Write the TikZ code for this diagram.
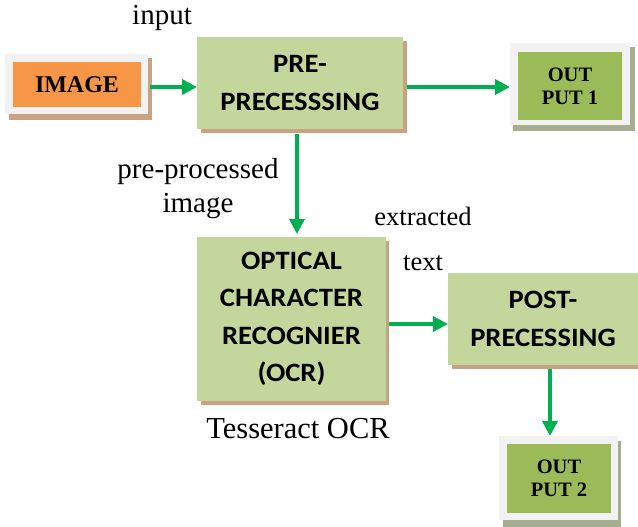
\documentclass[tikz,border=0pt]{standalone}
\usepackage{fontspec}
\setmainfont{Liberation Serif}
\newfontfamily\carlitofont[FakeStretch=1.08]{Carlito}
\usetikzlibrary{arrows.meta}
\definecolor{arrowgreen}{HTML}{00B050}
\definecolor{lightgreen}{HTML}{C3D69B}
\definecolor{darkgreen}{HTML}{9BBB59}
\definecolor{orangefill}{HTML}{F79646}
\definecolor{framegray}{HTML}{F2F2F2}
\definecolor{tanshadow}{HTML}{C9A283}
\definecolor{greyshadow}{HTML}{A7AE90}
\tikzset{
  conn/.style={draw=arrowgreen, line width=3.5pt, -{Triangle[length=15pt,width=15pt]}},
  stagebox/.style={fill=lightgreen, draw=none, inner sep=0pt, align=center,
    font=\carlitofont\bfseries\fontsize{26.5}{37.5}\selectfont},
  tagbox/.style={draw=none, inner sep=0pt, align=center,
    font=\bfseries\fontsize{20.5}{23}\selectfont},
  lbl/.style={inner sep=0pt, font=\fontsize{29}{34}\selectfont, align=center},
  lblsmall/.style={inner sep=0pt, font=\fontsize{26.5}{30}\selectfont}
}
\begin{document}
\begin{tikzpicture}[x=1pt,y=-1pt]
\useasboundingbox (0,0) rectangle (638,527);
% IMAGE
\fill[tanshadow] (9,58) rectangle (152,120);
\fill[framegray] (5,54) rectangle (148,114);
\node[tagbox, fill=orangefill, minimum width=128pt, minimum height=45pt,
  font=\bfseries\fontsize{24}{28}\selectfont] (img) at (77,84.5) {IMAGE};
% PRE-PRECESSSING
\fill[tanshadow] (201,41) rectangle (407,133);
\node[stagebox, minimum width=206pt, minimum height=92pt] (pre) at (300,83) {PRE-\\PRECESSSING};
% OUT PUT 1
\fill[greyshadow] (513,47) rectangle (635,131);
\fill[framegray] (510,43) rectangle (630,125);
\node[tagbox, fill=darkgreen, minimum width=104pt, minimum height=68pt] (out1) at (570,86) {OUT\\PUT 1};
% OCR
\fill[tanshadow] (201,241) rectangle (389,405);
\node[stagebox, minimum width=189pt, minimum height=164pt] (ocr) at (291.5,319) {OPTICAL\\CHARACTER\\RECOGNIER\\(OCR)};
% POST
\fill[tanshadow] (452,277) rectangle (642,369);
\node[stagebox, minimum width=190pt, minimum height=92pt] (post) at (543,319) {POST-\\PRECESSING};
% OUT PUT 2
\fill[greyshadow] (503,441) rectangle (621,527);
\fill[framegray] (499,436) rectangle (618,520);
\node[tagbox, fill=darkgreen, minimum width=104pt, minimum height=69pt] (out2) at (559,478.5) {OUT\\PUT 2};
% frame anchors for connectors
\coordinate (imgR) at (150,87);
\coordinate (preL) at (197,87);
\coordinate (preR) at (407,87);
\coordinate (out1L) at (510,87);
\coordinate (preB) at (297,134);
\coordinate (ocrT) at (297,234);
\coordinate (ocrR) at (389,324);
\coordinate (postL) at (448,324);
\coordinate (postB) at (550,369);
\coordinate (out2T) at (550,436);
\draw[conn] (imgR) -- (preL);
\draw[conn] (preR) -- (out1L);
\draw[conn] (preB) -- (ocrT);
\draw[conn] (ocrR) -- (postL);
\draw[conn] (postB) -- (out2T);
% labels
\node[lbl, anchor=base] (linput) at (162,25) {input};
\node[lbl, anchor=base] (lpre) at (198,212) {pre-processed\\image};
\node[lblsmall, anchor=base] (lext) at (423,225) {extracted};
\node[lblsmall, anchor=base] (ltext) at (423,270) {text};
\node[lbl, anchor=base, font=\fontsize{30.5}{34}\selectfont] (ltess) at (298,438) {Tesseract OCR};
\end{tikzpicture}
\end{document}
